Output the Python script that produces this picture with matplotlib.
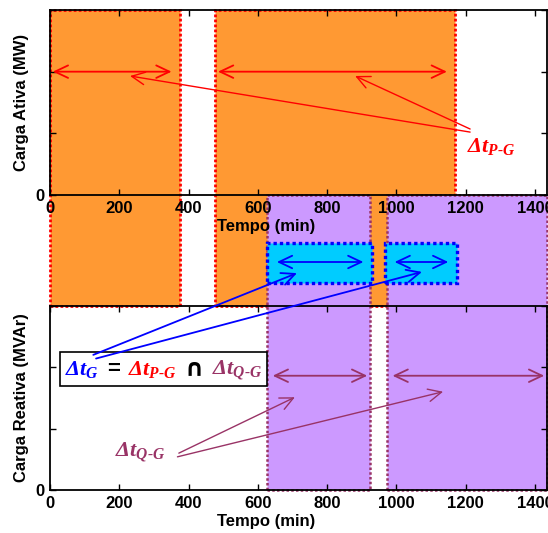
import matplotlib
matplotlib.use("Agg")
import matplotlib.pyplot as plt
import matplotlib.transforms as mtransforms
from matplotlib.patches import Rectangle
from matplotlib.offsetbox import TextArea, HPacker, AnnotationBbox

plt.rcParams["font.family"] = ["Liberation Sans", "DejaVu Sans"]
plt.rcParams["font.weight"] = "bold"
plt.rcParams["mathtext.fontset"] = "custom"
plt.rcParams["mathtext.rm"] = "Liberation Serif:bold:italic"
plt.rcParams["mathtext.it"] = "Liberation Serif:bold:italic"
plt.rcParams["mathtext.bf"] = "Liberation Serif:bold:italic"

# janelas de tempo (min)
p_ini = [0, 477]        # carga ativa dentro da faixa
p_fim = [375, 1170]
q_ini = [627, 973]      # carga reativa dentro da faixa
q_fim = [924, 1435]
g_ini = [627, 967]      # intersecao
g_fim = [929, 1174]

x_ticks = [0, 200, 400, 600, 800, 1000, 1200, 1400]
y_ticks = [0, 1, 2, 3]
y_tick_labels = ["0", "", "", ""]

ORANGE = "#ff9933"
PURPLE = "#cc99ff"
CYAN = "#00ccff"
WINE = "#993366"

W, H = 548, 533
fig = plt.figure(figsize=(W / 100, H / 100), dpi=100)


def px_box(left, top, right, bottom):
    return [left / W, 1 - bottom / H, (right - left) / W, (bottom - top) / H]


ax1 = fig.add_axes(px_box(50, 10, 547, 195))
ax2 = fig.add_axes(px_box(50, 305.7, 547, 490))
ax2.set_facecolor("none")

for ax, ylabel in ((ax1, "Carga Ativa (MW)"), (ax2, "Carga Reativa (MVAr)")):
    ax.set_xlim(0, 1435)
    ax.set_ylim(0, 3)
    ax.set_xticks(x_ticks)
    ax.set_yticks(y_ticks)
    ax.set_yticklabels(y_tick_labels)
    ax.tick_params(direction="in", top=True, right=True, length=4, width=1,
                   labelsize=12, pad=4)
    ax.set_xlabel("Tempo (min)", fontsize=12, fontweight="bold", va="top")
    ax.set_ylabel(ylabel, fontsize=12, fontweight="bold")
    ax.xaxis.set_label_coords(0.435, -0.13)
    ax.yaxis.set_label_coords(-0.042, 0.5)
    for sp in ax.spines.values():
        sp.set_linewidth(1.3)

# faixas verticais: x em minutos, y em fracao da figura
y1_top = ax1.get_position().y1
y1_bot = ax1.get_position().y0
y2_top = ax2.get_position().y1
y2_bot = ax2.get_position().y0
band_top = 1 - 243 / H
band_bot = 1 - 283 / H
trans = mtransforms.blended_transform_factory(ax1.transData, fig.transFigure)


def faixa(x0, x1, yb, yt, face, edge, lw, dash):
    ax1.add_patch(Rectangle((x0, yb), x1 - x0, yt - yb, transform=trans,
                            facecolor=face, edgecolor=edge, linewidth=lw,
                            linestyle=(0, dash), clip_on=False, zorder=1))


for a, b in zip(p_ini, p_fim):
    faixa(a, b, y2_top, y1_top, ORANGE, "red", 2.0, (1, 0.8))
for a, b in zip(q_ini, q_fim):
    faixa(a, b, y2_bot, y1_bot, PURPLE, WINE, 1.8, (1, 0.9))
for a, b in zip(g_ini, g_fim):
    faixa(a, b, band_bot, band_top, CYAN, "blue", 2.4, (1, 0.9))

dbl = "<->,head_length=0.95,head_width=0.45"
one = "->,head_length=0.95,head_width=0.45"

# setas de duracao
for a, b in zip(p_ini, p_fim):
    ax1.annotate("", xy=(b, 2.0), xytext=(a, 2.0), annotation_clip=False,
                 arrowprops=dict(arrowstyle=dbl, color="red", lw=1.3,
                                 mutation_scale=10, shrinkA=2, shrinkB=6),
                 zorder=4)
band_y = 1 - 262 / H
for a, b in zip(g_ini, g_fim):
    ax1.annotate("", xy=(b, band_y), xytext=(a, band_y),
                 xycoords=trans, textcoords=trans, annotation_clip=False,
                 arrowprops=dict(arrowstyle=dbl, color="blue", lw=1.3,
                                 mutation_scale=10, shrinkA=7, shrinkB=6),
                 zorder=4)
for a, b in zip(q_ini, q_fim):
    ax2.annotate("", xy=(b, 1.86), xytext=(a, 1.86), annotation_clip=False,
                 arrowprops=dict(arrowstyle=dbl, color=WINE, lw=1.3,
                                 mutation_scale=10, shrinkA=4, shrinkB=2),
                 zorder=4)

# rotulos
ax1.text(1205, 0.78, r"$\Delta t_{P\text{-}G}$", color="red", fontsize=16,
         ha="left", va="center", clip_on=False, zorder=5)
for xy, start in (((231, 1.93), (1213, 1.02)), ((881, 1.93), (1213, 1.07))):
    ax1.annotate("", xy=xy, xytext=start, annotation_clip=False,
                 arrowprops=dict(arrowstyle=one, color="red", lw=1.0,
                                 mutation_scale=10, shrinkA=0, shrinkB=0),
                 zorder=4)

ax2.text(188, 0.62, r"$\Delta t_{Q\text{-}G}$", color=WINE, fontsize=16,
         ha="left", va="center", clip_on=False, zorder=5)
for xy, start in (((707, 1.51), (372, 0.60)), ((1135, 1.60), (368, 0.54))):
    ax2.annotate("", xy=xy, xytext=start, annotation_clip=False,
                 arrowprops=dict(arrowstyle=one, color=WINE, lw=1.0,
                                 mutation_scale=10, shrinkA=0, shrinkB=0),
                 zorder=4)

for xy, start in (((713, 3.53), (125, 2.2)), ((1074, 3.55), (133, 2.14))):
    ax2.annotate("", xy=xy, xytext=start, annotation_clip=False,
                 arrowprops=dict(arrowstyle=one, color="blue", lw=1.3,
                                 mutation_scale=10, shrinkA=0, shrinkB=0),
                 zorder=6)

parts = [
    TextArea(r"$\Delta t_G$", textprops=dict(color="blue", fontsize=16)),
    TextArea("=", textprops=dict(color="black", fontsize=16, fontweight="bold")),
    TextArea(r"$\Delta t_{P\text{-}G}$", textprops=dict(color="red", fontsize=16)),
    TextArea("\u2229", textprops=dict(color="black", fontsize=17, fontweight="bold",
                                      family="DejaVu Sans")),
    TextArea(r"$\Delta t_{Q\text{-}G}$", textprops=dict(color=WINE, fontsize=16)),
]
eq = HPacker(children=parts, align="baseline", pad=0, sep=6)
ab = AnnotationBbox(eq, (328, 1.97), xycoords="data", frameon=True, pad=0.25,
                    annotation_clip=False,
                    bboxprops=dict(edgecolor="black", linewidth=1.2,
                                   boxstyle="square"))
ab.set_zorder(5)
ax2.add_artist(ab)

fig.savefig("out.png", dpi=100)
